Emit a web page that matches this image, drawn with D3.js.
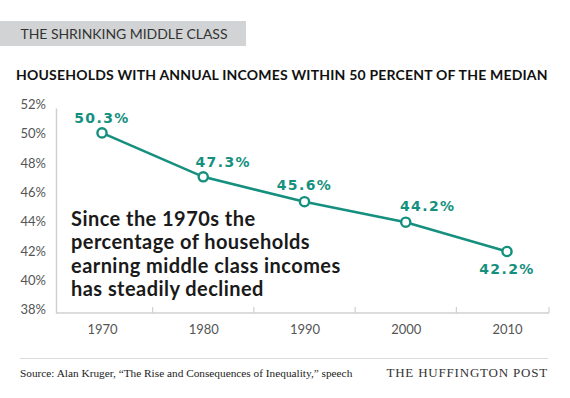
<!DOCTYPE html>
<html>
<head>
<meta charset="utf-8">
<script src="https://cdn.jsdelivr.net/npm/d3@7/dist/d3.min.js"></script>
<style>
  body { margin: 0; background: #fff; }
  svg { display: block; }
</style>
</head>
<body>
<div id="chart"></div>
<script>
'use strict';

// chart data
var years = [1970, 1980, 1990, 2000, 2010];
var shares = [50.3, 47.3, 45.6, 44.2, 42.2];
var yTicks = [38, 40, 42, 44, 46, 48, 50, 52];
var noteLines = ['Since the 1970s the', 'percentage of households', 'earning middle class incomes', 'has steadily declined'];

// label placement (dx, dy from point)
var labelOffsets = [[0, -10], [20, -10], [0, -12], [22, -11], [0, 22]];

var width = 570, height = 398;
var plotLeft = 56, plotRight = 549, plotTop = 108, plotBottom = 313;
var teal = '#15907e';

var svg = d3.select('#chart').append('svg')
    .attr('width', width)
    .attr('height', height);

svg.append('rect').attr('width', width).attr('height', height).attr('fill', '#fff');

// header
svg.append('rect')
    .attr('x', 0).attr('y', 21)
    .attr('width', 246).attr('height', 25)
    .attr('fill', '#d2d3d5');
svg.append('text')
    .attr('x', 20.5).attr('y', 38.5)
    .attr('font-family', 'Lato, sans-serif')
    .attr('font-size', 14)
    .attr('fill', '#333')
    .attr('letter-spacing', -0.05)
    .text('THE SHRINKING MIDDLE CLASS');

svg.append('text')
    .attr('x', 16).attr('y', 80)
    .attr('font-family', 'Lato, sans-serif')
    .attr('font-weight', 700)
    .attr('font-size', 14)
    .attr('letter-spacing', 0.2)
    .attr('fill', '#111')
    .text('HOUSEHOLDS WITH ANNUAL INCOMES WITHIN 50 PERCENT OF THE MEDIAN');

// scales
var x = d3.scalePoint().domain(years).range([102, 507]);
var y = d3.scaleLinear().domain([38, 52]).range([plotBottom, plotTop]);

// y axis
var yAxis = svg.append('g')
    .attr('transform', 'translate(' + plotLeft + ',0)')
    .call(d3.axisLeft(y).tickValues(yTicks).tickSize(0).tickSizeOuter(0).tickPadding(10)
        .tickFormat(function (d) { return d + '%'; }));
yAxis.select('.domain').attr('stroke', '#d0d0d0').attr('stroke-width', 1.5);
yAxis.selectAll('text')
    .attr('y', -3.5)
    .attr('font-family', 'Lato, sans-serif')
    .attr('font-size', 13)
    .attr('fill', '#555');

// x axis
svg.append('line')
    .attr('x1', plotLeft).attr('x2', plotRight)
    .attr('y1', plotBottom).attr('y2', plotBottom)
    .attr('stroke', '#d0d0d0').attr('stroke-width', 1.5);

var seps = years.slice(1).map(function (d) { return x(d) - x.step() / 2; }).concat([plotRight]);
svg.selectAll('.sep').data(seps).enter().append('line')
    .attr('class', 'sep')
    .attr('x1', function (d) { return d; }).attr('x2', function (d) { return d; })
    .attr('y1', plotBottom - 6).attr('y2', plotBottom)
    .attr('stroke', '#d0d0d0').attr('stroke-width', 1.2);

var xAxis = svg.append('g')
    .attr('transform', 'translate(0,' + plotBottom + ')')
    .call(d3.axisBottom(x).tickSize(0).tickPadding(12));
xAxis.select('.domain').remove();
xAxis.selectAll('text')
    .attr('font-family', 'Lato, sans-serif')
    .attr('font-size', 13)
    .attr('fill', '#555');

// note
svg.append('text')
    .attr('x', 71).attr('y', 226)
    .attr('font-family', 'Lato, sans-serif')
    .attr('font-weight', 700)
    .attr('font-size', 20)
    .attr('letter-spacing', 0.45)
    .attr('fill', '#1a1a1a')
    .selectAll('tspan').data(noteLines).enter().append('tspan')
    .attr('x', 71)
    .attr('dy', function (d, i) { return i === 0 ? 0 : 23.3; })
    .text(function (d) { return d; });

// line
var line = d3.line()
    .x(function (d, i) { return x(years[i]); })
    .y(function (d) { return y(d); });

svg.append('path')
    .datum(shares)
    .attr('d', line)
    .attr('fill', 'none')
    .attr('stroke', teal)
    .attr('stroke-width', 2.6);

svg.selectAll('.pt').data(shares).enter().append('circle')
    .attr('class', 'pt')
    .attr('cx', function (d, i) { return x(years[i]); })
    .attr('cy', function (d) { return y(d); })
    .attr('r', 4.6)
    .attr('fill', '#fff')
    .attr('stroke', teal)
    .attr('stroke-width', 2.4);

svg.selectAll('.val').data(shares).enter().append('text')
    .attr('class', 'val')
    .attr('x', function (d, i) { return x(years[i]) + labelOffsets[i][0]; })
    .attr('y', function (d, i) { return y(d) + labelOffsets[i][1]; })
    .attr('text-anchor', 'middle')
    .attr('font-family', 'DejaVu Sans, sans-serif')
    .attr('font-weight', 700)
    .attr('font-size', 14)
    .attr('letter-spacing', 1.4)
    .attr('fill', teal)
    .text(function (d) { return d.toFixed(1) + '%'; });

// footer
svg.append('line')
    .attr('x1', 20).attr('x2', 548)
    .attr('y1', 358.5).attr('y2', 358.5)
    .attr('stroke', '#dcdcdc').attr('stroke-width', 1.2);

svg.append('text')
    .attr('x', 20).attr('y', 377)
    .attr('font-family', 'Liberation Serif, serif')
    .attr('font-size', 11.3)
    .attr('fill', '#222')
    .text('Source: Alan Kruger, \u201cThe Rise and Consequences of Inequality,\u201d speech');

svg.append('text')
    .attr('x', 548).attr('y', 377)
    .attr('text-anchor', 'end')
    .attr('font-family', 'Liberation Serif, serif')
    .attr('font-size', 13)
    .attr('letter-spacing', 0.8)
    .attr('fill', '#333')
    .text('THE HUFFINGTON POST');
</script>
</body>
</html>
